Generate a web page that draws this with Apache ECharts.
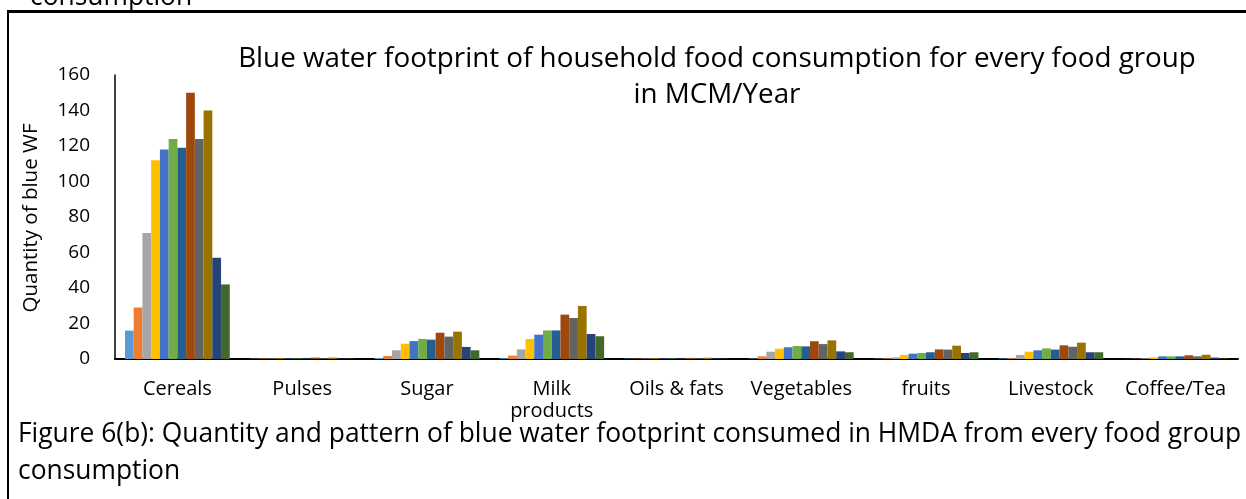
<!DOCTYPE html>
<html>
<head>
<meta charset="utf-8">
<script src="https://cdn.jsdelivr.net/npm/echarts@6/dist/echarts.min.js"></script>
<style>
  html, body { margin: 0; padding: 0; background: #fff; }
  #chart { width: 1246px; height: 499px; }
</style>
</head>
<body>
<div id="chart"></div>
<script>
// food groups on the x axis
const categories = ["Cereals", "Pulses", "Sugar", "Milk\nproducts", "Oils & fats", "Vegetables", "fruits", "Livestock", "Coffee/Tea"];
const yTicks = [0, 20, 40, 60, 80, 100, 120, 140, 160];

// one array per series (12 bars per group)
const s1  = [16, 0.2, 0.6, 0.4, 0.2, 0.3, 0.2, 0.3, 0.1];
const s2  = [29, 0.3, 1.7, 1.9, 0.2, 1.5, 0.4, 0.5, 0.2];
const s3  = [71, 0.3, 4.9, 5.4, 0.3, 4.1, 0.9, 2.3, 0.4];
const s4  = [112, 0.3, 8.6, 11.3, 0.3, 5.8, 2.3, 4.1, 0.9];
const s5  = [118, 0.3, 10.1, 13.7, 0.3, 6.6, 3.0, 4.9, 1.5];
const s6  = [124, 0.3, 11.3, 16.1, 0.3, 7.3, 3.4, 6.0, 1.5];
const s7  = [119, 0.3, 10.9, 16.1, 0.3, 7.1, 3.8, 5.3, 1.5];
const s8  = [150, 0.8, 14.8, 25.0, 0.6, 10.0, 5.4, 7.7, 2.1];
const s9  = [124, 0.4, 12.6, 23.1, 0.4, 8.4, 5.3, 6.9, 1.5];
const s10 = [140, 0.8, 15.4, 29.9, 0.7, 10.5, 7.5, 9.2, 2.4];
const s11 = [57, 0.3, 6.8, 14.1, 0.3, 4.3, 3.4, 3.8, 0.8];
const s12 = [42, 0.2, 4.9, 12.8, 0.2, 3.8, 3.8, 3.8, 0.3];

const seriesData = [s1, s2, s3, s4, s5, s6, s7, s8, s9, s10, s11, s12];
const colors = ["#5B9BD5", "#ED7D31", "#A5A5A5", "#FFC000", "#4472C4", "#70AD47",
                "#255E91", "#9E480E", "#636363", "#997300", "#264478", "#43682B"];

const font = "'Open Sans', Lato, sans-serif";

const myChart = echarts.init(document.getElementById("chart"));
const option = {
  color: colors,
  animation: false,
  textStyle: { fontFamily: font },
  title: {
    text: "Blue water footprint of household food consumption for every food group\nin MCM/Year",
    left: 712,
    top: 36,
    textAlign: "center",
    textStyle: { fontSize: 27.8, fontWeight: "normal", color: "#000", fontFamily: font, lineHeight: 36, align: "center" }
  },
  grid: { left: 115, right: 8, top: 75, bottom: 140, containLabel: false },
  xAxis: {
    type: "category",
    data: categories,
    axisLine: { lineStyle: { color: "#000", width: 2 } },
    axisTick: { show: false },
    axisLabel: { color: "#000", fontSize: 20, margin: 19, interval: 0, lineHeight: 22 }
  },
  yAxis: {
    type: "value",
    min: 0,
    max: yTicks[yTicks.length - 1],
    interval: yTicks[1] - yTicks[0],
    axisLine: { show: true, lineStyle: { color: "#000", width: 1.5 } },
    axisTick: { show: false },
    splitLine: { show: false },
    axisLabel: { color: "#000", fontSize: 19, margin: 25 }
  },
  series: seriesData.map((d, i) => ({
    name: "Series " + (i + 1),
    type: "bar",
    data: d,
    barGap: "0%",
    barCategoryGap: "16%"
  })),
  graphic: [
    { type: "line", shape: { x1: 8, y1: 11.5, x2: 1246, y2: 11.5 }, style: { stroke: "#000", lineWidth: 3 } },
    { type: "line", shape: { x1: 8, y1: 10, x2: 8, y2: 499 }, style: { stroke: "#000", lineWidth: 2 } },
    { type: "text", x: 31, y: 218, rotation: Math.PI / 2,
      style: { text: "Quantity of blue WF", fontSize: 20.5, fontFamily: font, fill: "#000", align: "center", verticalAlign: "middle" } },
    { type: "text", x: 30, y: 10, style: { text: "consumption", fontSize: 26.4, fontFamily: font, fill: "#000", verticalAlign: "bottom" } },
    { type: "text", x: 18, y: 434, style: { text: "Figure 6(b): Quantity and pattern of blue water footprint consumed in HMDA from every food group", fontSize: 26.4, fontFamily: font, fill: "#000", verticalAlign: "middle" } },
    { type: "text", x: 18, y: 471, style: { text: "consumption", fontSize: 26.4, fontFamily: font, fill: "#000", verticalAlign: "middle" } }
  ]
};
myChart.setOption(option);
window.addEventListener("resize", function () {
  myChart.resize();
});
</script>
</body>
</html>
